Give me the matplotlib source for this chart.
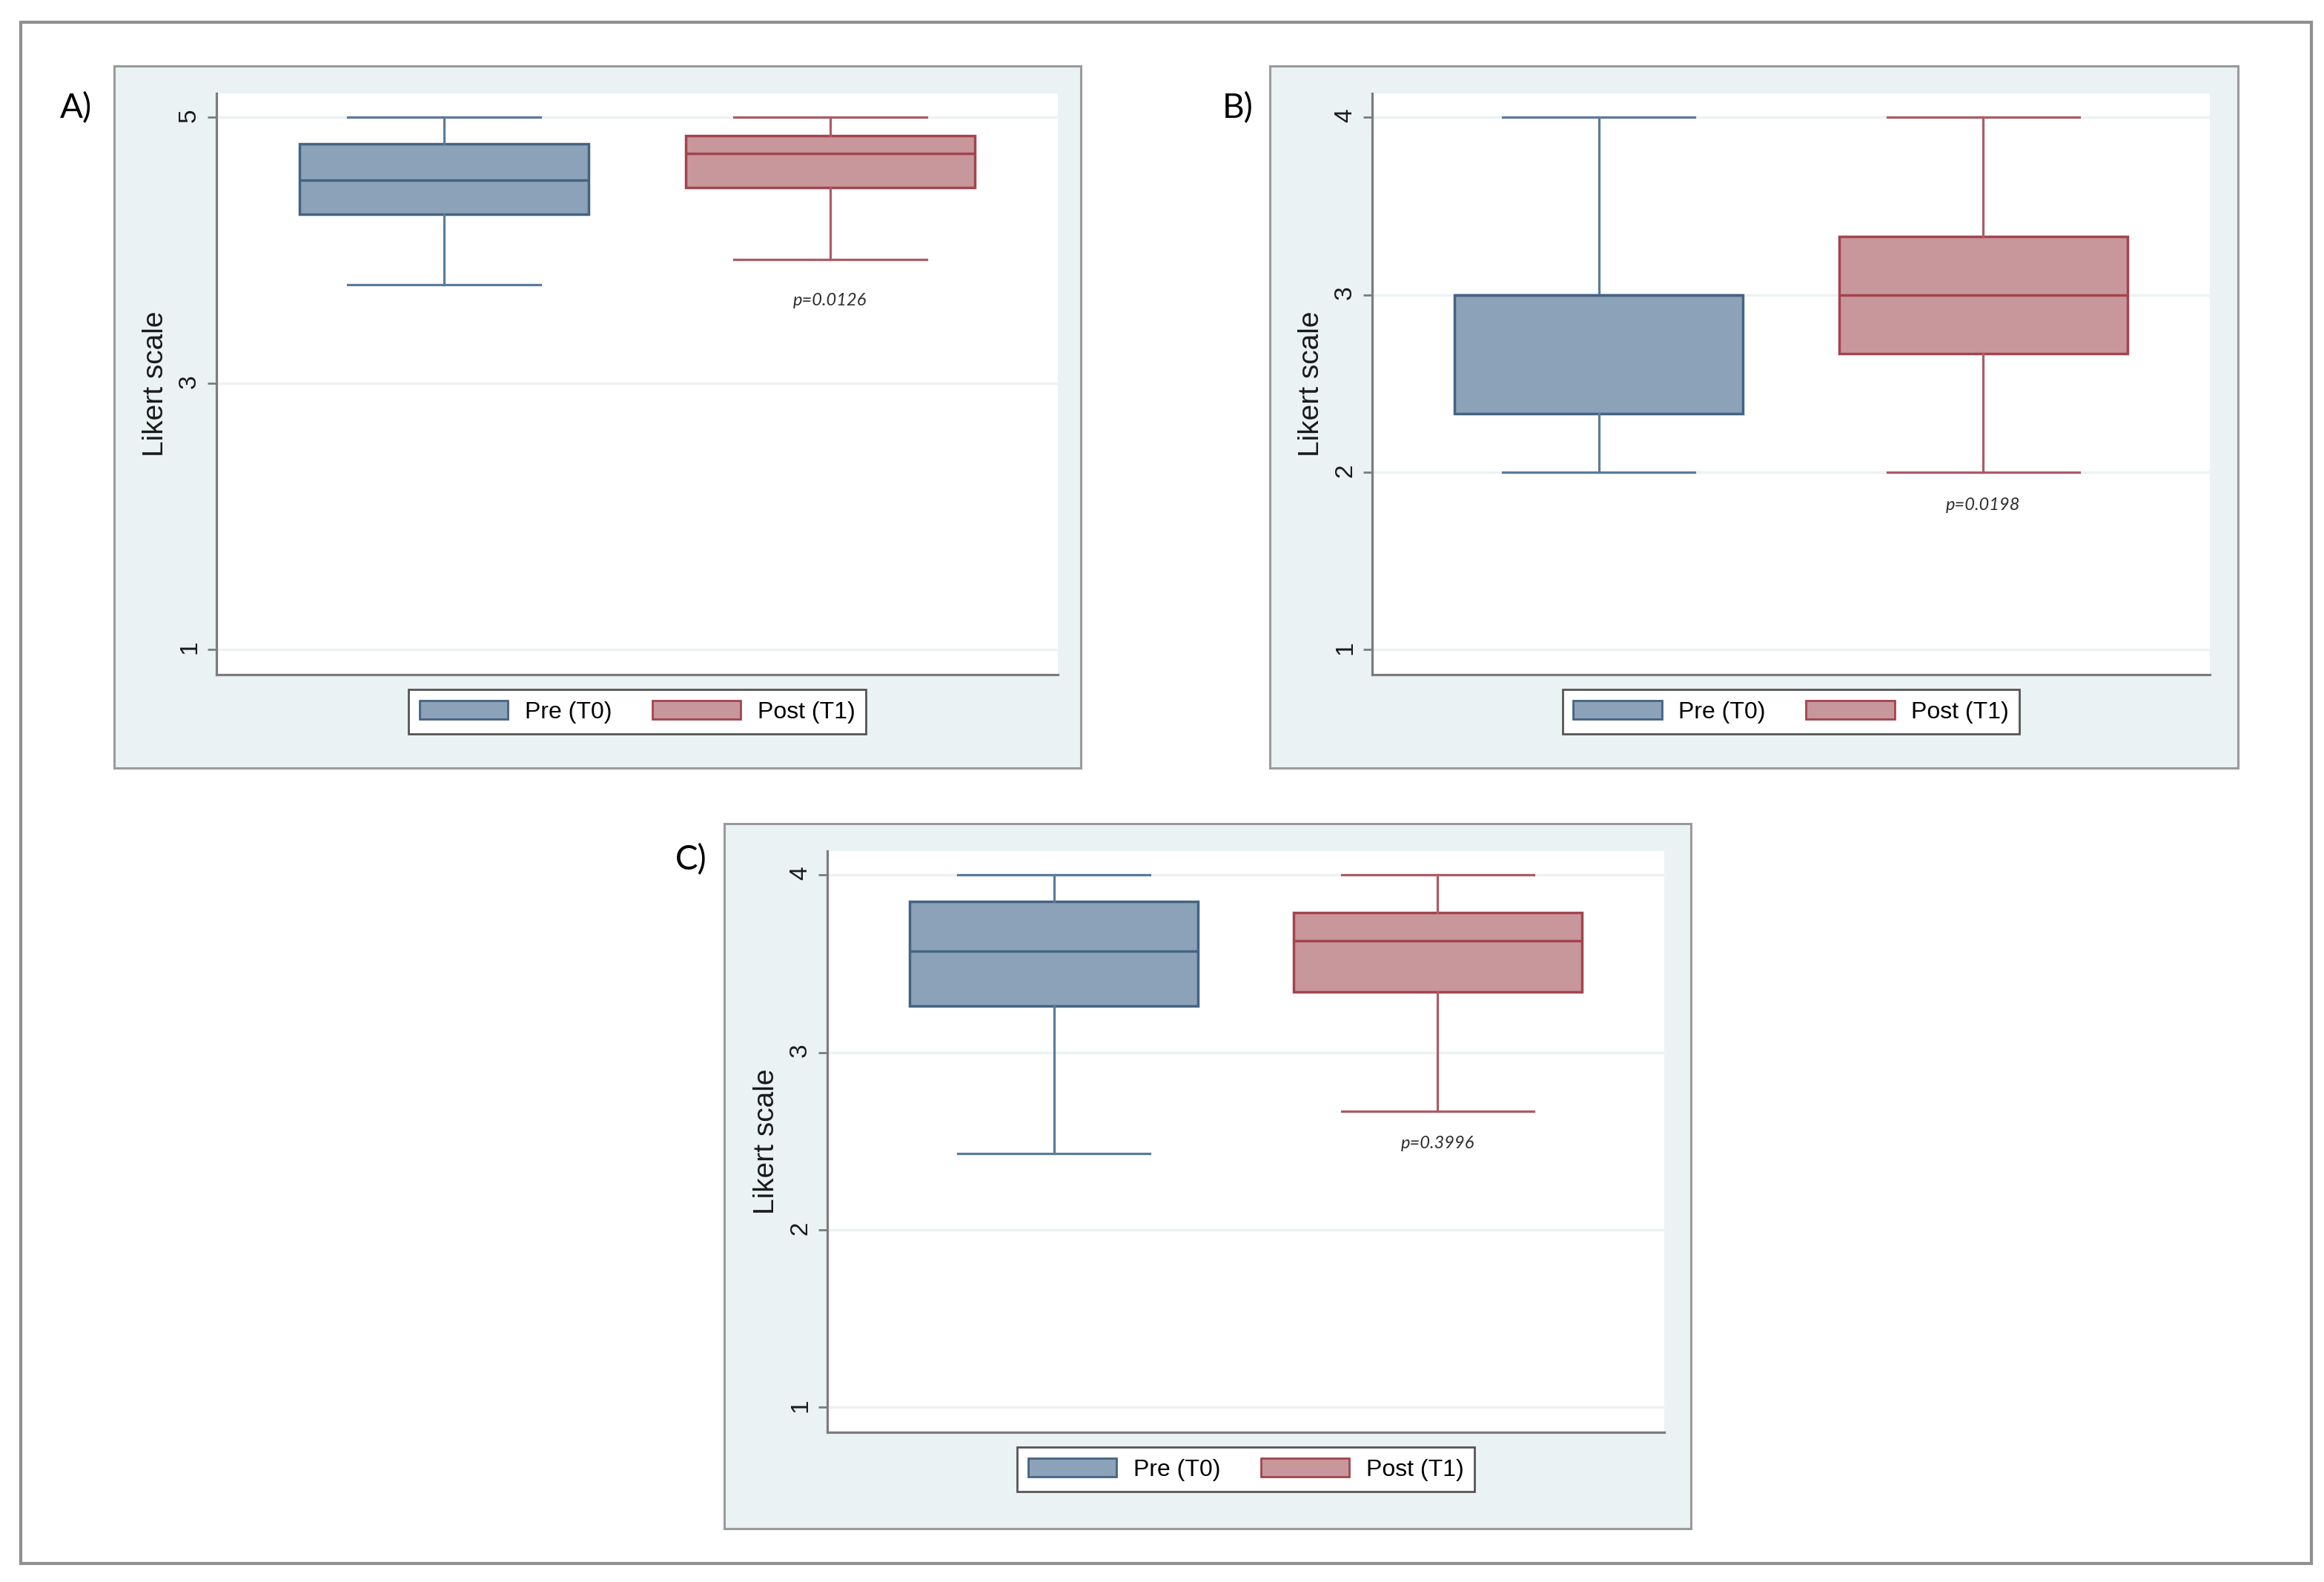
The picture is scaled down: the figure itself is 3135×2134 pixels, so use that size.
import matplotlib
matplotlib.use('Agg')
import matplotlib.pyplot as plt
from matplotlib.patches import Patch, Rectangle

plt.rcParams['font.family'] = ['Liberation Sans', 'DejaVu Sans']

groups = ['Pre (T0)', 'Post (T1)']

# Panel A
a_whislo = [3.74, 3.93]
a_q1 = [4.27, 4.47]
a_med = [4.53, 4.73]
a_q3 = [4.80, 4.86]
a_whishi = [5.0, 5.0]
a_ticks = [1, 3, 5]
a_p = 'p=0.0126'

# Panel B
b_whislo = [2.0, 2.0]
b_q1 = [2.33, 2.67]
b_med = [3.0, 3.0]
b_q3 = [3.0, 3.33]
b_whishi = [4.0, 4.0]
b_ticks = [1, 2, 3, 4]
b_p = 'p=0.0198'

# Panel C
c_whislo = [2.43, 2.67]
c_q1 = [3.26, 3.34]
c_med = [3.57, 3.63]
c_q3 = [3.85, 3.79]
c_whishi = [4.0, 4.0]
c_ticks = [1, 2, 3, 4]
c_p = 'p=0.3996'

fills = ['#8ba2b8', '#c8979b']
edges = ['#456382', '#a2444f']
whisk = ['#5a7b9b', '#ae5a65']
region_bg = '#eaf2f3'

W, H = 3135, 2134
fig = plt.figure(figsize=(W / 100, H / 100), dpi=100)
fig.patch.set_facecolor('white')


def px_rect(x0, y0, x1, y1, **kw):
    r = Rectangle((x0 / W, 1 - y1 / H), (x1 - x0) / W, (y1 - y0) / H,
                  transform=fig.transFigure, zorder=-5, **kw)
    fig.patches.append(r)


# outer frame
px_rect(28, 30, 3118, 2109, facecolor='white', edgecolor='#909090', linewidth=3)
# graph regions
px_rect(154, 89, 1458, 1036, facecolor=region_bg, edgecolor='#9a9a9a', linewidth=2.2)
px_rect(1713, 89, 3019, 1036, facecolor=region_bg, edgecolor='#9a9a9a', linewidth=2.2)
px_rect(977, 1111, 2281, 2062, facecolor=region_bg, edgecolor='#9a9a9a', linewidth=2.2)


def panel(rect, whislo, q1, med, q3, whishi, ticks, ylim, ptext, py):
    ax = fig.add_axes(rect)
    ax.set_facecolor('white')
    stats = []
    for i in range(2):
        stats.append({'whislo': whislo[i], 'q1': q1[i], 'med': med[i],
                      'q3': q3[i], 'whishi': whishi[i], 'fliers': []})
    bp = ax.bxp(stats, positions=[1, 2], widths=0.75, capwidths=0.5,
                patch_artist=True, showfliers=False)
    for i in range(2):
        bp['boxes'][i].set_facecolor(fills[i])
        bp['boxes'][i].set_edgecolor(edges[i])
        bp['boxes'][i].set_linewidth(2.5)
        bp['medians'][i].set_color(edges[i])
        bp['medians'][i].set_linewidth(2.5)
        for ln in bp['whiskers'][2 * i:2 * i + 2] + bp['caps'][2 * i:2 * i + 2]:
            ln.set_color(whisk[i])
            ln.set_linewidth(2.3)
    ax.set_xlim(0.41, 2.59)
    ax.set_ylim(*ylim)
    ax.set_yticks(ticks)
    ax.set_xticks([])
    ax.yaxis.grid(True, color='#edf2f3', linewidth=2.5)
    ax.set_axisbelow(True)
    for s in ['top', 'right']:
        ax.spines[s].set_visible(False)
    for s in ['left', 'bottom']:
        ax.spines[s].set_color('#7c7c7c')
        ax.spines[s].set_linewidth(2.3)
    ax.tick_params(axis='y', length=9, width=2, color='#7c7c7c',
                   labelsize=24, pad=6, labelrotation=90, labelcolor='#1a1a1a')
    ax.set_ylabel('Likert scale', fontsize=28, labelpad=9, color='#1a1a1a')
    ax.text(2, py, ptext, ha='center', va='center', fontsize=17,
            style='italic', family=['Lato', 'DejaVu Sans'], color='#2e2e2e')
    handles = [Patch(facecolor=fills[i], edgecolor=edges[i], linewidth=2, label=groups[i])
               for i in range(2)]
    leg = ax.legend(handles=handles, loc='center', bbox_to_anchor=(0.5, -0.064),
                    ncol=2, fontsize=23, frameon=True, fancybox=False,
                    handlelength=3.75, handleheight=0.85, handletextpad=0.7,
                    columnspacing=1.7, borderpad=0.45, borderaxespad=0)
    leg.get_frame().set_edgecolor('#555555')
    leg.get_frame().set_linewidth(2)
    leg.get_frame().set_facecolor('white')
    leg.get_frame().set_alpha(1)
    return ax


panel([292 / W, 1 - 910 / H, 1135 / W, 784 / H],
      a_whislo, a_q1, a_med, a_q3, a_whishi, a_ticks, (0.81, 5.18), a_p, 3.62)
panel([1851 / W, 1 - 910 / H, 1130 / W, 784 / H],
      b_whislo, b_q1, b_med, b_q3, b_whishi, b_ticks, (0.86, 4.135), b_p, 1.815)
panel([1116 / W, 1 - 1932 / H, 1129 / W, 784 / H],
      c_whislo, c_q1, c_med, c_q3, c_whishi, c_ticks, (0.86, 4.135), c_p, 2.485)

lab_font = ['Lato', 'DejaVu Sans']
fig.text(102 / W, 1 - 146 / H, 'A)', ha='center', va='center', fontsize=33, family=lab_font)
fig.text(1670 / W, 1 - 146 / H, 'B)', ha='center', va='center', fontsize=33, family=lab_font)
fig.text(932 / W, 1 - 1160 / H, 'C)', ha='center', va='center', fontsize=33, family=lab_font)

fig.savefig('out.png', dpi=100)
